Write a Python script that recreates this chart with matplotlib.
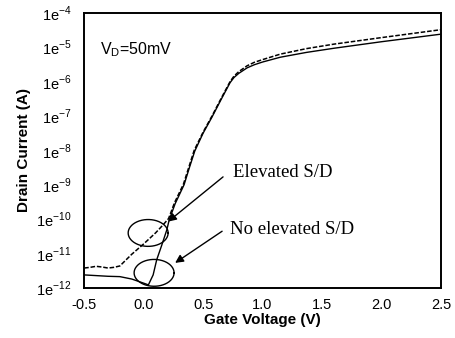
import numpy as np
import matplotlib
matplotlib.use("Agg")
import matplotlib.pyplot as plt

# gate voltage (V) and log10 drain current
v_elev = [-0.5, -0.45, -0.4, -0.35, -0.3, -0.25, -0.2, -0.1, 0.0, 0.1, 0.165,
          0.21, 0.26, 0.335, 0.38, 0.425, 0.5, 0.575, 0.65, 0.727, 0.76, 0.8,
          0.87, 0.93, 1.0, 1.15, 1.37, 1.6, 2.0, 2.5]
logi_elev = [-11.42, -11.40, -11.37, -11.39, -11.42, -11.40, -11.36, -11.02,
             -10.72, -10.40, -10.16, -9.98, -9.52, -8.98, -8.49, -8.0, -7.47,
             -7.0, -6.5, -6.0, -5.84, -5.71, -5.54, -5.44, -5.36, -5.20, -5.04,
             -4.91, -4.72, -4.49]

v_noel = [-0.5, -0.4, -0.3, -0.2, -0.1, -0.05, 0.0, 0.04, 0.08, 0.11, 0.15,
          0.195, 0.215, 0.265, 0.34, 0.385, 0.43, 0.5, 0.575, 0.65, 0.727,
          0.76, 0.8, 0.87, 0.93, 1.0, 1.15, 1.37, 1.6, 2.0, 2.5]
logi_noel = [-11.62, -11.64, -11.66, -11.67, -11.74, -11.80, -11.86, -11.91,
             -11.62, -11.18, -10.78, -10.31, -10.02, -9.55, -9.0, -8.5, -8.02,
             -7.5, -7.03, -6.53, -6.03, -5.88, -5.76, -5.60, -5.51, -5.43,
             -5.29, -5.15, -5.03, -4.84, -4.62]

x_ticks = [-0.5, 0.0, 0.5, 1.0, 1.5, 2.0, 2.5]
y_exps = [-12, -11, -10, -9, -8, -7, -6, -5, -4]

# circled regions: (centre V, centre log I)
circles = [(0.038, -10.40), (0.088, -11.56)]
circle_rx, circle_ry = 0.168, 0.39

# labels with arrows: text, text pos (V, logI), arrow tail, arrow tip
notes = [
    ("Elevated S/D", (0.75, -8.63), (0.668, -8.77), (0.206, -10.07)),
    ("No elevated S/D", (0.725, -10.30), (0.66, -10.35), (0.265, -11.27)),
]

fig = plt.figure(figsize=(4.55, 3.38), dpi=100)
ax = fig.add_axes([0.185, 0.148, 0.784, 0.814])

ax.plot(v_elev, 10.0 ** np.array(logi_elev), color="black", lw=1.1,
        linestyle=(0, (3, 1.2)))
ax.plot(v_noel, 10.0 ** np.array(logi_noel), color="black", lw=1.0)

t = np.linspace(0, 2 * np.pi, 200)
for cx, cy in circles:
    ax.plot(cx + circle_rx * np.cos(t), 10.0 ** (cy + circle_ry * np.sin(t)),
            color="black", lw=1.0)

for label, tpos, tail, tip in notes:
    ax.annotate("", xy=(tip[0], 10.0 ** tip[1]),
                xytext=(tail[0], 10.0 ** tail[1]),
                arrowprops=dict(arrowstyle="-|>", color="black", lw=1.0,
                                mutation_scale=12, shrinkA=0, shrinkB=0))
    ax.text(tpos[0], 10.0 ** tpos[1], label, family="Liberation Serif",
            fontsize=13.5, va="center", ha="left")

ax.text(-0.37, 10.0 ** -5.08, r"V$_{\mathregular{D}}$=50mV",
        family="Liberation Sans", fontsize=11.5, va="center")

ax.set_yscale("log")
ax.set_xlim(-0.5, 2.5)
ax.set_ylim(1e-12, 1e-4)
ax.set_xticks(x_ticks)
ax.set_xticklabels([f"{v:.1f}" for v in x_ticks], family="Liberation Sans",
                   fontsize=10.5)
ax.set_yticks([10.0 ** e for e in y_exps])
ax.set_yticklabels([r"1e$^{\mathregular{%d}}$" % e for e in y_exps],
                   family="Liberation Sans", fontsize=10.5)
ax.minorticks_off()
ax.tick_params(axis="y", length=0, pad=9)
ax.tick_params(axis="x", length=0, pad=7)
for s in ax.spines.values():
    s.set_linewidth(1.4)

ax.set_xlabel("Gate Voltage (V)", family="Liberation Sans", weight="bold",
              fontsize=11)
ax.set_ylabel("Drain Current (A)", family="Liberation Sans", weight="bold",
              fontsize=11)
ax.xaxis.set_label_coords(0.5, -0.09)
ax.yaxis.set_label_coords(-0.15, 0.5)

fig.savefig("out.png", dpi=100)
